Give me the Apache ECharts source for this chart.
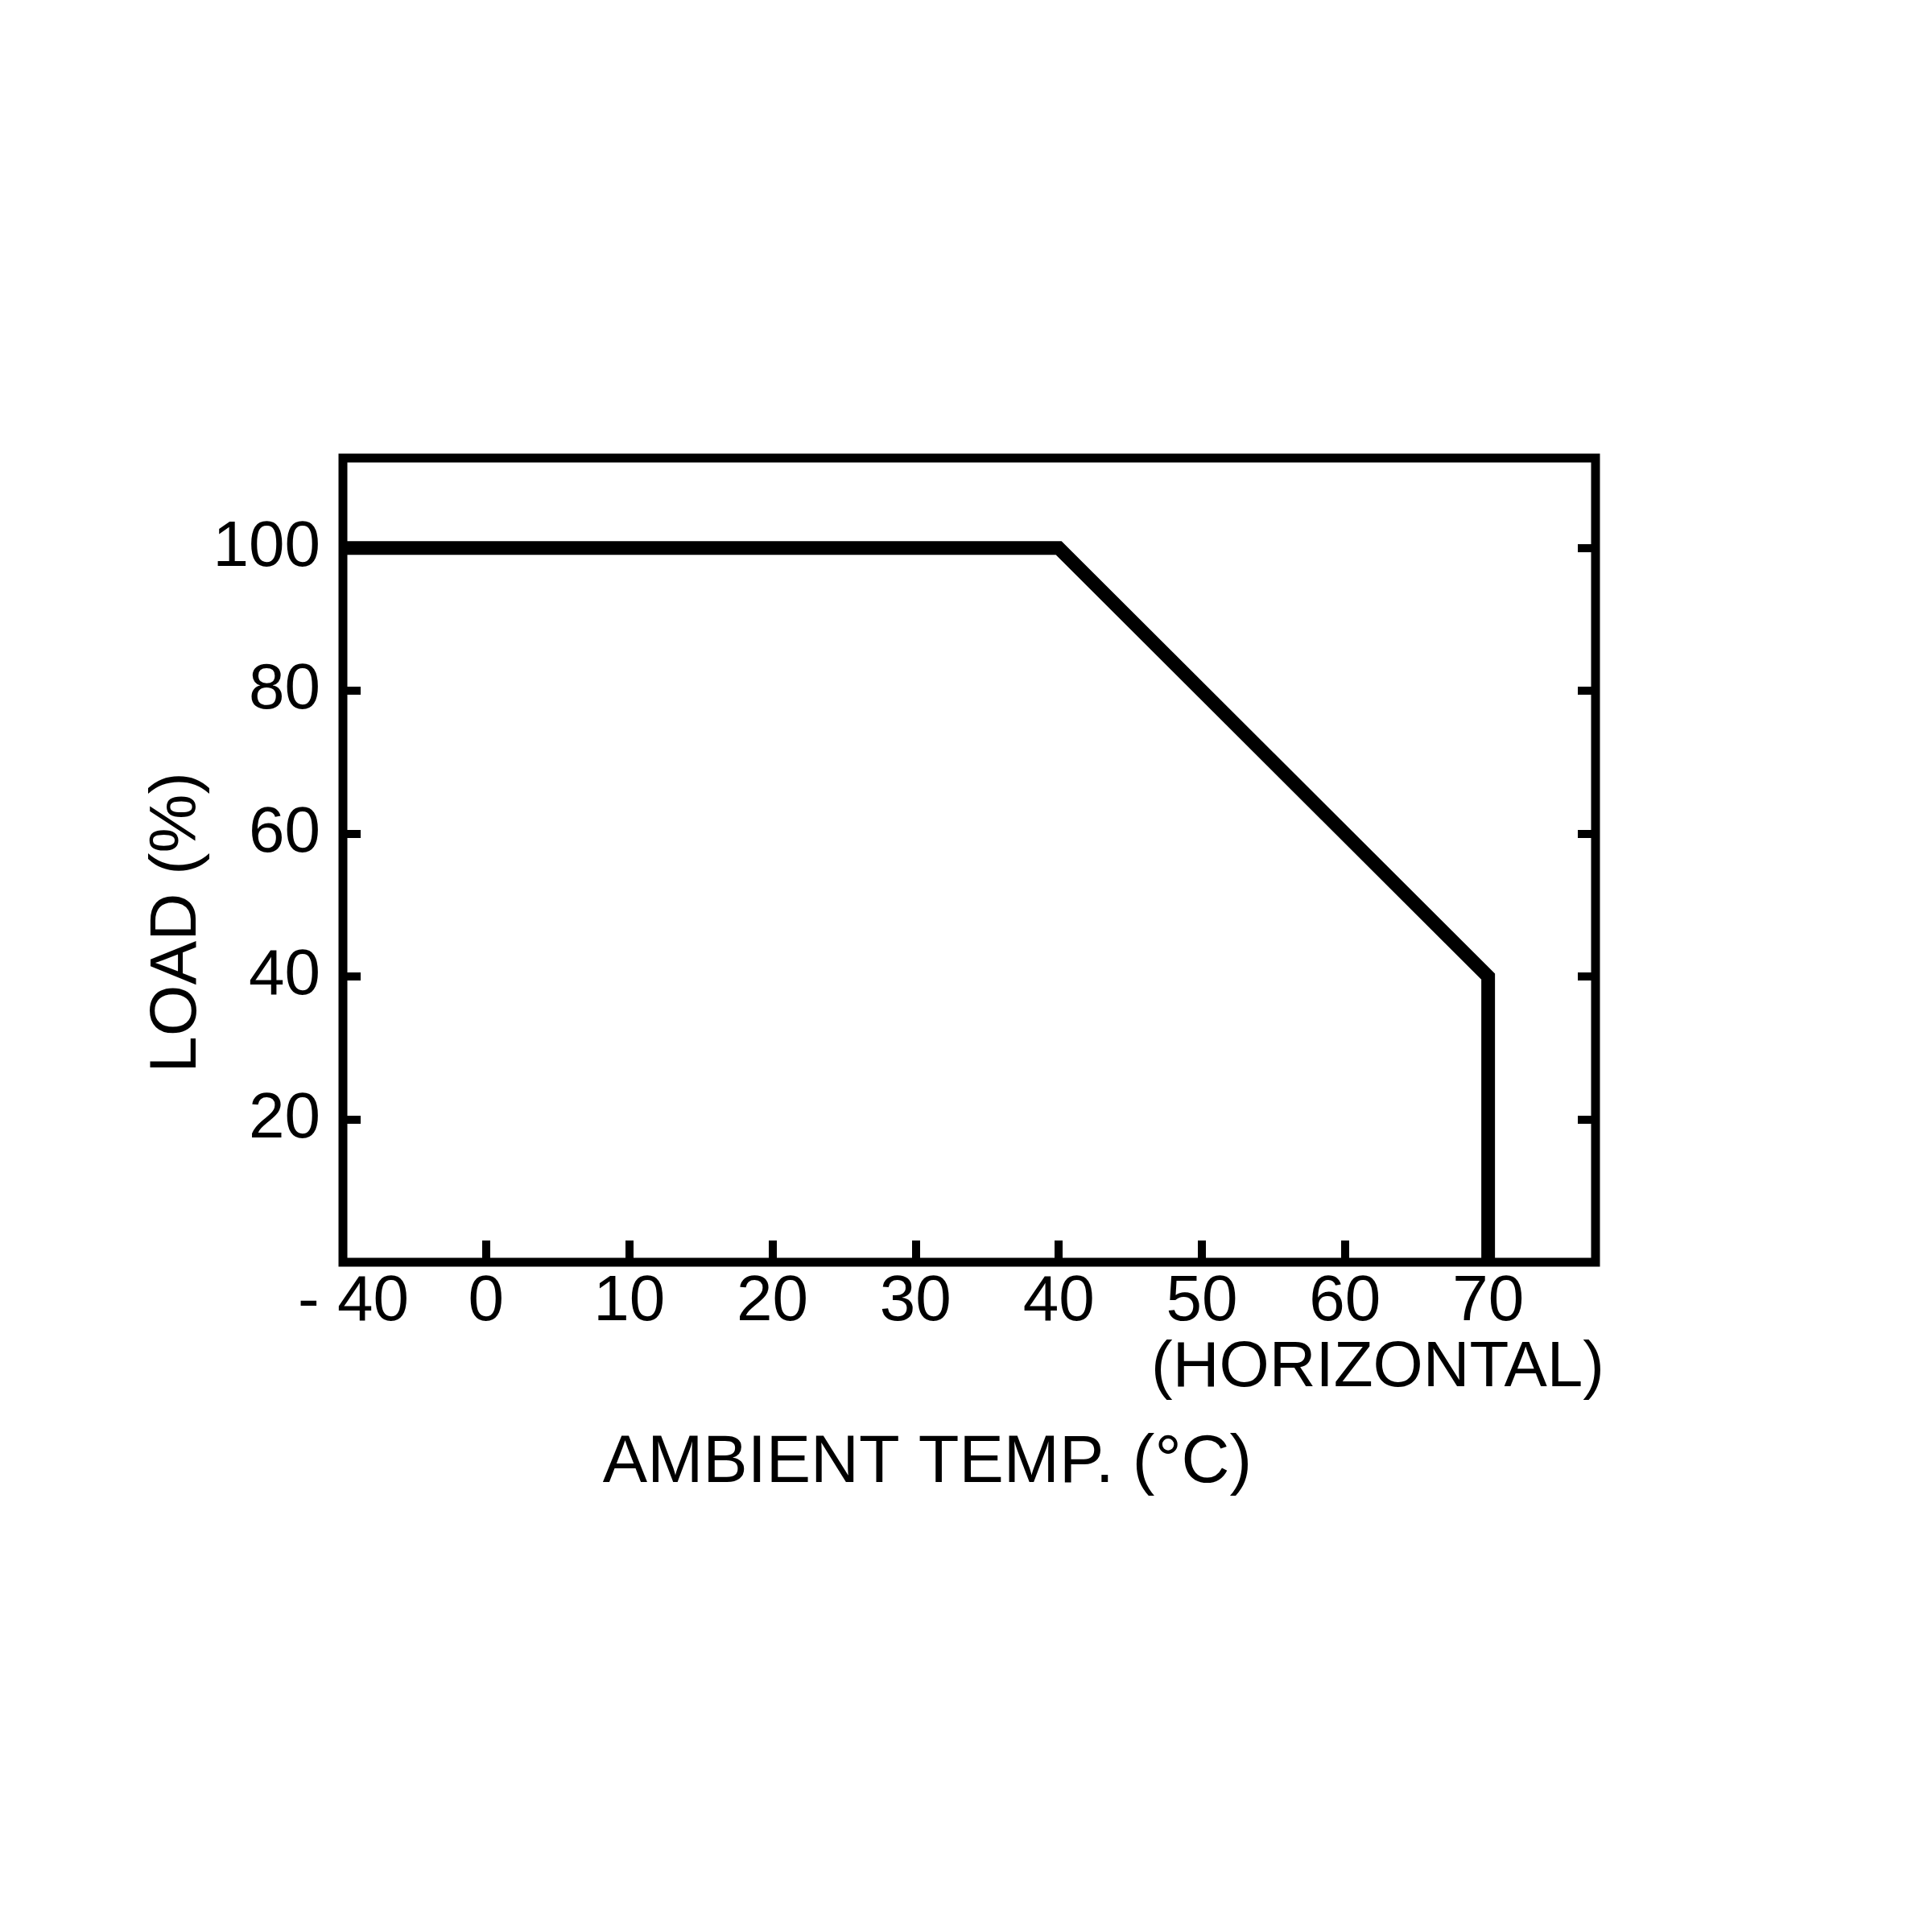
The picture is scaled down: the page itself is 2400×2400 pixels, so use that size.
<!DOCTYPE html>
<html>
<head>
<meta charset="utf-8">
<script src="https://cdn.jsdelivr.net/npm/echarts@6/dist/echarts.min.js"></script>
<style>
  html, body { margin: 0; padding: 0; background: #fff; }
  #chart { width: 2400px; height: 2400px; }
</style>
</head>
<body>
<div id="chart"></div>
<script>
// derating curve: ambient temperature vs load
const temps = [-40, 40, 70, 70];
const loads = [100, 100, 40, 0];

const xTickValues = [-40, 0, 10, 20, 30, 40, 50, 60, 70];
const xTickLabels = ['- 40', '0', '10', '20', '30', '40', '50', '60', '70'];
const yTickLabels = ['20', '40', '60', '80', '100'];

const FONT = '"Liberation Sans", Arial, Helvetica, sans-serif';

// the axis is broken below zero: -40..0 takes the room of 10 degrees
const toAxis = t => (t < 0 ? t / 4 : t);

const chart = echarts.init(document.getElementById('chart'));

const xLabel = v => {
  const i = xTickValues.findIndex(t => Math.abs(toAxis(t) - v) < 1e-6);
  if (i < 0) return '';
  // first label sits a bit right of the frame corner
  return i === 0 ? '{first|' + xTickLabels[i] + '}' : xTickLabels[i];
};
const yLabel = v => (yTickLabels.includes(String(v)) ? String(v) : '');

const tickStyle = { color: '#000', width: 10 };

chart.setOption({
  animation: false,
  backgroundColor: '#fff',
  grid: {
    left: 426, right: 418, top: 569, bottom: 832,
    show: true, borderColor: '#000', borderWidth: 11
  },
  xAxis: {
    type: 'value',
    min: -10, max: 77.5, interval: 10,
    axisLine: { show: false, onZero: false },
    splitLine: { show: false },
    axisTick: { show: true, inside: true, length: 27, lineStyle: tickStyle },
    axisLabel: {
      margin: 10, color: '#000', fontSize: 80, fontFamily: FONT,
      showMaxLabel: false, formatter: xLabel,
      rich: {
        first: { fontSize: 80, fontFamily: FONT, color: '#000', padding: [0, 0, 0, 26] }
      }
    }
  },
  yAxis: [
    {
      type: 'value', position: 'left',
      min: 0, max: 112.6, interval: 20,
      axisLine: { show: false, onZero: false },
      splitLine: { show: false },
      axisTick: { show: true, inside: true, length: 22, lineStyle: tickStyle },
      axisLabel: {
        margin: 28, color: '#000', fontSize: 80, fontFamily: FONT,
        showMinLabel: false, showMaxLabel: false, formatter: yLabel
      }
    },
    {
      type: 'value', position: 'right',
      min: 0, max: 112.6, interval: 20,
      axisLine: { show: false, onZero: false },
      splitLine: { show: false },
      axisTick: { show: true, inside: true, length: 22, lineStyle: tickStyle },
      axisLabel: { show: false }
    }
  ],
  series: [{
    type: 'line',
    data: temps.map((t, i) => [toAxis(t), loads[i]]),
    showSymbol: false,
    symbol: 'none',
    lineStyle: { color: '#000', width: 17, join: 'miter', cap: 'butt' }
  }],
  graphic: [
    {
      type: 'text', x: 1993, y: 1700,
      style: { text: '(HORIZONTAL)', fill: '#000', font: '80px ' + FONT, textAlign: 'right', textVerticalAlign: 'middle' }
    },
    {
      type: 'text', x: 1152, y: 1818,
      style: { text: 'AMBIENT TEMP. (°C)', fill: '#000', font: '83px ' + FONT, textAlign: 'center', textVerticalAlign: 'middle' }
    },
    {
      type: 'text', x: 220, y: 1146, rotation: Math.PI / 2,
      style: { text: 'LOAD (%)', fill: '#000', font: '82px ' + FONT, textAlign: 'center', textVerticalAlign: 'middle' }
    }
  ]
});
</script>
</body>
</html>
